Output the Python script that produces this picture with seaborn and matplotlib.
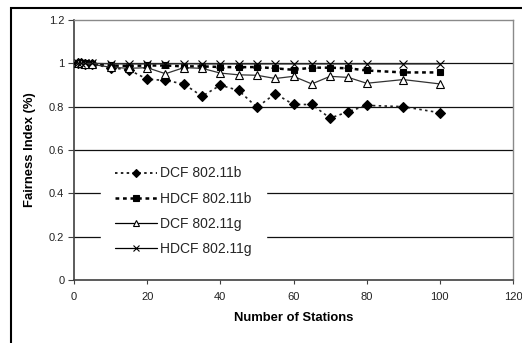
import matplotlib
matplotlib.use("Agg")
import matplotlib.pyplot as plt
import seaborn as sns
import pandas as pd
from matplotlib.patches import Rectangle

# ---- data ----
stations = [1, 2, 3, 5, 10, 15, 20, 25, 30, 35, 40, 45, 50, 55, 60, 65, 70, 75, 80, 90, 100]
dcf_b = [1.0, 1.0, 0.998, 0.995, 0.98, 0.97, 0.927, 0.921, 0.905, 0.848, 0.899, 0.875,
         0.797, 0.86, 0.81, 0.81, 0.747, 0.777, 0.806, 0.8, 0.772]
hdcf_b = [1.0, 1.0, 1.0, 0.997, 0.99, 0.988, 0.99, 0.99, 0.986, 0.986, 0.983, 0.982,
          0.983, 0.977, 0.97, 0.98, 0.98, 0.977, 0.967, 0.958, 0.958]
dcf_g = [1.0, 1.0, 0.998, 0.995, 0.982, 0.977, 0.98, 0.952, 0.98, 0.977, 0.955, 0.947,
         0.945, 0.93, 0.94, 0.905, 0.94, 0.935, 0.908, 0.925, 0.905]
hdcf_g = [1.0, 1.0, 1.0, 1.0, 0.998, 0.997, 0.997, 0.997, 0.998, 0.997, 0.997, 0.997,
          0.997, 0.997, 0.997, 0.997, 0.997, 0.997, 0.997, 0.997, 0.997]
series_names = ["DCF 802.11b", "HDCF 802.11b", "DCF 802.11g", "HDCF 802.11g"]
x_ticks = [0, 20, 40, 60, 80, 100, 120]
y_ticks = [0, 0.2, 0.4, 0.6, 0.8, 1.0, 1.2]
y_tick_labels = ["0", "0.2", "0.4", "0.6", "0.8", "1", "1.2"]

sns.set_theme(style="white")
plt.rcParams["font.family"] = ["Liberation Sans", "DejaVu Sans"]

fig = plt.figure(figsize=(5.22, 3.43), dpi=100)
ax = fig.add_axes([74 / 522, 63 / 343, (513 - 74) / 522, (280 - 20) / 343])

styles = [
    dict(y=dcf_b, marker="D", ms=4.6, mfc="black", mec="black", ls=(0, (1.5, 2.0)), lw=1.2, color="#222222"),
    dict(y=hdcf_b, marker="s", ms=4.8, mfc="black", mec="black", ls=(0, (1.5, 1.5)), lw=1.8, color="black"),
    dict(y=dcf_g, marker="^", ms=5.2, mfc="white", mec="black", ls="-", lw=0.9, color="#333333"),
    dict(y=hdcf_g, marker="x", ms=5.2, mfc="black", mec="black", ls="-", lw=0.9, color="#333333"),
]
for name, st in zip(series_names, styles):
    sns.lineplot(x=stations, y=st["y"], ax=ax, label=name, marker=st["marker"],
                 markersize=st["ms"], markerfacecolor=st["mfc"], markeredgecolor=st["mec"],
                 markeredgewidth=0.8, linestyle=st["ls"], linewidth=st["lw"], color=st["color"],
                 sort=False, estimator=None, zorder=3)

ax.set_xlim(0, 120)
ax.set_ylim(0, 1.2)
ax.set_xticks(x_ticks)
ax.set_xticklabels([str(t) for t in x_ticks])
ax.set_yticks(y_ticks)
ax.set_yticklabels(y_tick_labels)
ax.tick_params(axis="both", direction="out", length=4, width=0.8, colors="#404040",
               labelsize=8, labelcolor="#222222", pad=3)
ax.tick_params(axis="x", length=3, pad=6)
ax.tick_params(left=True, bottom=True)

for y in y_ticks[1:-1]:
    ax.axhline(y, color="#111111", lw=0.9, zorder=1)

for s in ["left", "bottom"]:
    ax.spines[s].set_color("#404040")
    ax.spines[s].set_linewidth(1.2)
for s in ["top", "right"]:
    ax.spines[s].set_color("#8a8a8a")
    ax.spines[s].set_linewidth(1.0)

ax.set_xlabel("Number of Stations", fontsize=9.4, fontweight="bold", labelpad=7, color="black")
ax.set_ylabel("Fairness Index (%)", fontsize=9.4, fontweight="bold", labelpad=9, color="black")

leg = ax.legend(loc="upper left", bbox_to_anchor=(0.062, 0.49), borderaxespad=0,
                frameon=True, fontsize=10, handlelength=3.0, handletextpad=0.25,
                labelspacing=0.8, borderpad=1.0, fancybox=False)
leg.get_frame().set_facecolor("white")
leg.get_frame().set_edgecolor("white")
leg.get_frame().set_alpha(1.0)
leg.set_zorder(5)
for h in leg.get_lines():
    h.set_color("black")
    h.set_markersize(4.0)

fig.patches.append(Rectangle((11 / 522, -0.1), 1.2, 0.1 + 1 - 8.5 / 343, transform=fig.transFigure,
                             fill=False, edgecolor="black", lw=1.5))

fig.savefig("out.png", dpi=100)
